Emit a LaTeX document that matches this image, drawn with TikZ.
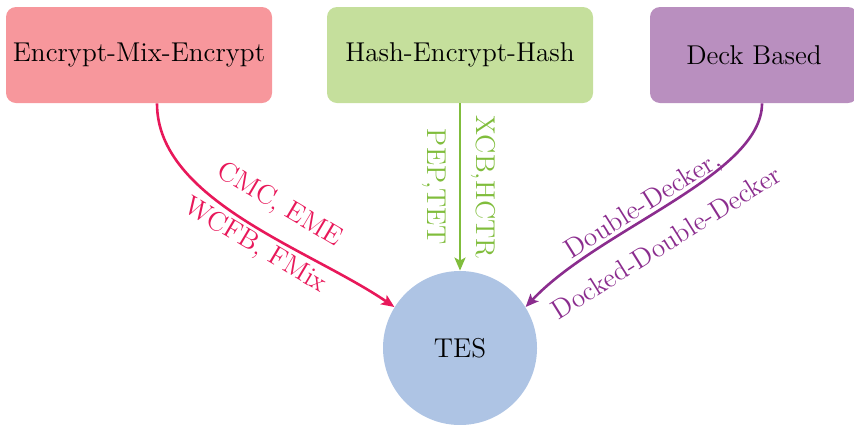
\documentclass[tikz,border=0pt]{standalone}
\usetikzlibrary{arrows.meta}
\definecolor{redbox}{HTML}{F7979C}
\definecolor{redline}{HTML}{E8185A}
\definecolor{greenbox}{HTML}{C5DF9C}
\definecolor{greenline}{HTML}{80BD3C}
\definecolor{purplebox}{HTML}{B98FBF}
\definecolor{purpleline}{HTML}{8B2D8E}
\definecolor{tesfill}{HTML}{AEC4E4}
\begin{document}
\begin{tikzpicture}[x=0.5pt,y=-0.5pt,
  font=\fontsize{13.6}{16}\selectfont,
  box/.style={rounded corners=5pt, minimum height=48pt, inner sep=0pt},
  conn/.style={line width=1.3pt, -{Stealth[length=6.5pt,width=5.5pt,inset=1.5pt]}}]
\useasboundingbox (0,0) rectangle (854,424);
\node[box, fill=redbox, minimum width=133pt] (emx) at (139,55) {Encrypt-Mix-Encrypt};
\node[box, fill=greenbox, minimum width=133pt] (heh) at (460,55) {Hash-Encrypt-Hash};
\node[box, fill=purplebox, minimum width=104pt] (deck) at (754,55) {Deck Based};
\node[circle, fill=tesfill, minimum size=77pt, inner sep=0pt] (tes) at (460,348) {TES};
\draw[conn, redline] ([xshift=9pt]emx.south) .. controls +(0,97) and +(-85,-58) .. (tes.148)
  node[pos=0.565, sloped, above=5.5pt, text=redline] {CMC, EME}
  node[pos=0.565, sloped, below=-2pt, text=redline] {WCFB, FMix};
\draw[conn, greenline] (heh.south) -- (tes.north)
  node[pos=0.5, sloped, above=1.5pt, text=greenline] {XCB,HCTR}
  node[pos=0.5, sloped, below=3pt, text=greenline] {PEP,TET};
\draw[conn, purpleline] ([xshift=4pt]deck.south) .. controls +(0,72) and +(73,-78) .. (tes.32)
  node[pos=0.57, sloped, above=-4pt, text=purpleline] {Double-Decker,}
  node[pos=0.57, sloped, below=6.5pt, text=purpleline] {Docked-Double-Decker};
\end{tikzpicture}
\end{document}
